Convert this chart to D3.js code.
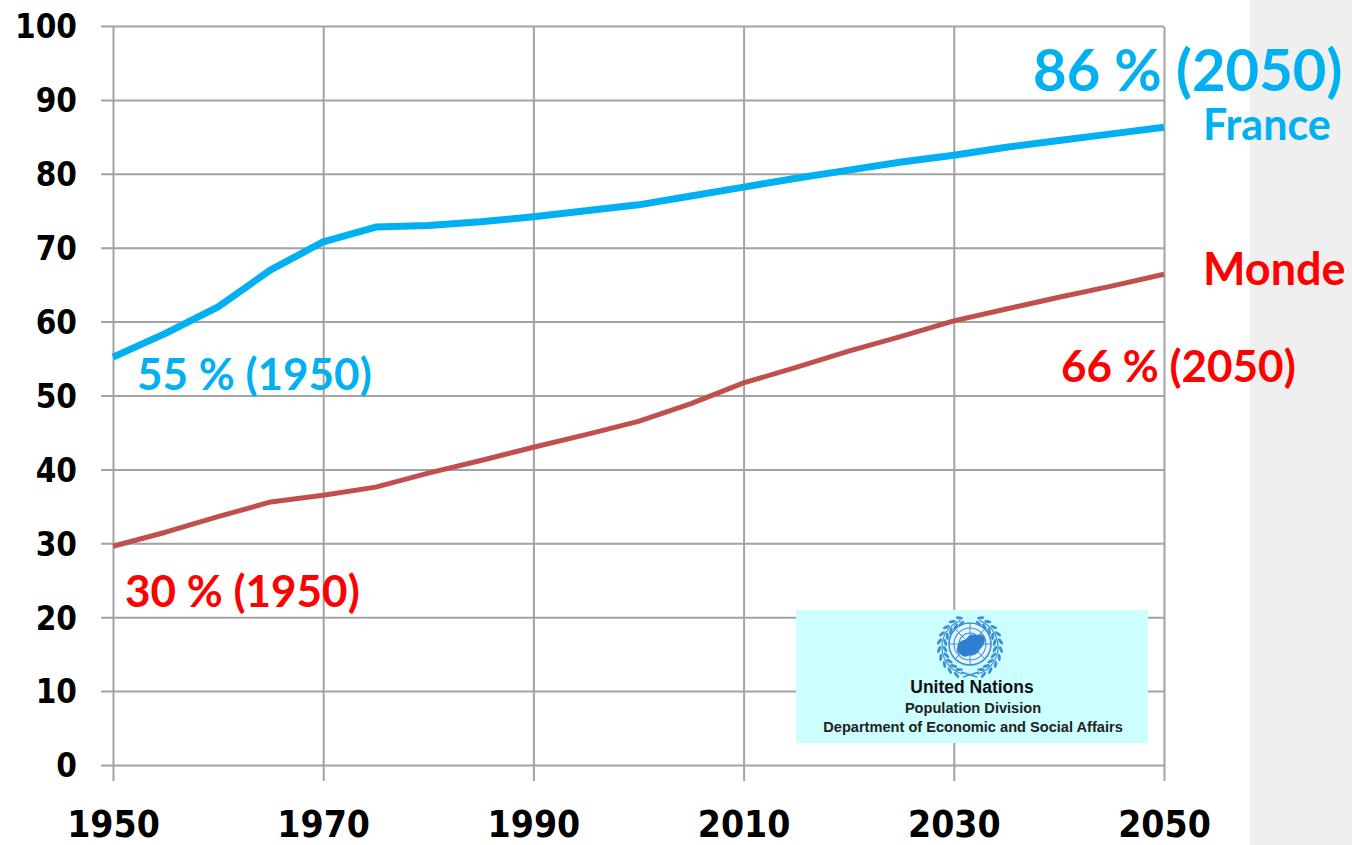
<!DOCTYPE html>
<html>
<head>
<meta charset="utf-8">
<script src="https://cdn.jsdelivr.net/npm/d3@7"></script>
<style>
  html, body { margin: 0; padding: 0; background: #ffffff; }
  svg { display: block; }
</style>
</head>
<body>
<script>
// Part de la population urbaine (%), 1950-2050
const years = [1950, 1955, 1960, 1965, 1970, 1975, 1980, 1985, 1990, 1995, 2000,
               2005, 2010, 2015, 2020, 2025, 2030, 2035, 2040, 2045, 2050];
const france = [55.2, 58.4, 62.0, 67.0, 70.8, 72.8, 73.0, 73.5, 74.2, 75.0, 75.8,
                77.0, 78.2, 79.4, 80.5, 81.6, 82.5, 83.6, 84.5, 85.4, 86.3];
const monde = [29.6, 31.5, 33.6, 35.6, 36.5, 37.6, 39.5, 41.2, 43.0, 44.7, 46.5,
               48.9, 51.7, 53.8, 56.0, 58.0, 60.1, 61.7, 63.3, 64.8, 66.4];
const yTicks = [0, 10, 20, 30, 40, 50, 60, 70, 80, 90, 100];
const xTicks = [1950, 1970, 1990, 2010, 2030, 2050];

const W = 1352, H = 845;
const svg = d3.select("body").append("svg").attr("width", W).attr("height", H);

// light grey band on the right edge
svg.append("rect").attr("x", 1250).attr("y", 0).attr("width", W - 1250).attr("height", H)
  .attr("fill", "#efefef");

const x = d3.scaleLinear().domain([1950, 2050]).range([113, 1164]);
const y = d3.scaleLinear().domain([0, 100]).range([765, 26]);

const gridColor = "#a3a3a3";
const axisFont = "'DejaVu Sans', Verdana, sans-serif";

// horizontal gridlines + y labels
const yAxis = d3.axisLeft(y).tickValues(yTicks).tickSize(-(1164 - 101)).tickPadding(0)
  .tickFormat(d3.format("d"));
const gy = svg.append("g").attr("transform", "translate(101,0)").call(yAxis);
gy.select(".domain").remove();
gy.selectAll(".tick line").attr("stroke", gridColor).attr("stroke-width", 2);
gy.selectAll(".tick text")
  .attr("x", -24).attr("dy", "0.36em")
  .attr("font-family", axisFont).attr("font-weight", "bold")
  .attr("font-stretch", "condensed")
  .attr("font-size", 33).attr("fill", "#000");

// vertical gridlines + x labels
const xAxis = d3.axisBottom(x).tickValues(xTicks).tickSize(-(781 - 27)).tickPadding(0)
  .tickFormat(d3.format("d"));
const gx = svg.append("g").attr("transform", "translate(0,781)").call(xAxis);
gx.select(".domain").remove();
gx.selectAll(".tick line").attr("stroke", gridColor).attr("stroke-width", 2);
gx.selectAll(".tick text")
  .attr("y", 56).attr("dy", 0)
  .attr("font-family", axisFont).attr("font-weight", "bold")
  .attr("font-stretch", "condensed")
  .attr("font-size", 37).attr("fill", "#000");

const line = d3.line().x((d, i) => x(years[i])).y(d => y(d));

svg.append("path").datum(monde).attr("d", line)
  .attr("fill", "none").attr("stroke", "#c0504d").attr("stroke-width", 5)
  .attr("stroke-linejoin", "round");

svg.append("path").datum(france).attr("d", line)
  .attr("fill", "none").attr("stroke", "#00b0f0").attr("stroke-width", 7)
  .attr("stroke-linejoin", "round");

// annotations
const annFont = "Lato, 'Open Sans', sans-serif";
const blue = "#00b0f0", red = "#ff0000";
function ann(txt, px, py, size, color) {
  svg.append("text").attr("x", px).attr("y", py).text(txt)
    .attr("font-family", annFont).attr("font-weight", "bold")
    .attr("font-size", size).attr("fill", color);
}
ann(`${Math.round(france[france.length - 1])} % (2050)`, 1033, 91, 58, blue);
ann("France", 1203, 140, 43, blue);
ann("Monde", 1203, 285, 45, red);
ann(`${Math.round(monde[monde.length - 1])} % (2050)`, 1061, 382, 44, red);
ann(`${Math.round(france[0])} % (1950)`, 137, 390, 44, blue);
ann(`${Math.round(monde[0])} % (1950)`, 125, 607, 44, red);

// United Nations Population Division box
const box = svg.append("g");
box.append("rect").attr("x", 796).attr("y", 610).attr("width", 352).attr("height", 133)
  .attr("fill", "#ccffff");

// emblem: globe with olive wreath
const cx = 970, cy = 644, r = 21;
const ink = "#3d8fd8";
const emb = box.append("g").attr("stroke", ink).attr("fill", "none");
emb.append("circle").attr("cx", cx).attr("cy", cy).attr("r", r).attr("stroke-width", 1.6)
  .attr("fill", "#eaf6ff");
[16, 11, 6].forEach(rr => emb.append("circle").attr("cx", cx).attr("cy", cy).attr("r", rr)
  .attr("stroke-width", 1.1));
for (let a = 0; a < 180; a += 45) {
  const rad = a * Math.PI / 180;
  emb.append("line")
    .attr("x1", cx + r * Math.cos(rad)).attr("y1", cy + r * Math.sin(rad))
    .attr("x2", cx - r * Math.cos(rad)).attr("y2", cy - r * Math.sin(rad))
    .attr("stroke-width", 1);
}
// land masses
emb.append("path")
  .attr("d", `M${cx - 13},${cy + 4} q2,-9 9,-8 q3,-7 10,-5 q8,-2 9,5 q-1,7 -6,9 q-2,7 -9,6 q-6,4 -10,-1 q-4,-1 -3,-6 z`)
  .attr("fill", "#2e7fcf").attr("stroke", "none");
// wreath
[-1, 1].forEach(s => {
  const R = 28;
  const pts = d3.range(0.25, 2.85, 0.05).map(t => [cx + s * R * Math.sin(t), cy + 3 + R * Math.cos(t)]);
  emb.append("path").attr("d", d3.line()(pts)).attr("stroke-width", 1.2);
  for (let t = 0.45; t < 2.8; t += 0.26) {
    [-3, 3].forEach(off => {
      const rr = R + off;
      const lx = cx + s * rr * Math.sin(t), ly = cy + 3 + rr * Math.cos(t);
      const ang = Math.atan2(-Math.sin(t), s * Math.cos(t)) * 180 / Math.PI + (off > 0 ? -25 : 25) * s;
      emb.append("ellipse").attr("cx", lx).attr("cy", ly).attr("rx", 3.6).attr("ry", 1.5)
        .attr("transform", `rotate(${ang},${lx},${ly})`)
        .attr("fill", ink).attr("stroke", "none");
    });
  }
});
// crossed stems below the globe
emb.append("path").attr("d", `M${cx - 9},${cy + 28} L${cx + 7},${cy + 33} M${cx + 9},${cy + 28} L${cx - 7},${cy + 33}`)
  .attr("stroke-width", 1.4);

const uf = "'Liberation Sans', Arial, sans-serif";
box.append("text").attr("x", 972).attr("y", 693).attr("text-anchor", "middle")
  .attr("font-family", uf).attr("font-weight", "bold").attr("font-size", 17.5)
  .attr("fill", "#111").text("United Nations");
box.append("text").attr("x", 973).attr("y", 713).attr("text-anchor", "middle")
  .attr("font-family", uf).attr("font-weight", "bold").attr("font-size", 14.6)
  .attr("fill", "#222").text("Population Division");
box.append("text").attr("x", 973).attr("y", 732).attr("text-anchor", "middle")
  .attr("font-family", uf).attr("font-weight", "bold").attr("font-size", 14.6)
  .attr("fill", "#222").text("Department of Economic and Social Affairs");
</script>
</body>
</html>
